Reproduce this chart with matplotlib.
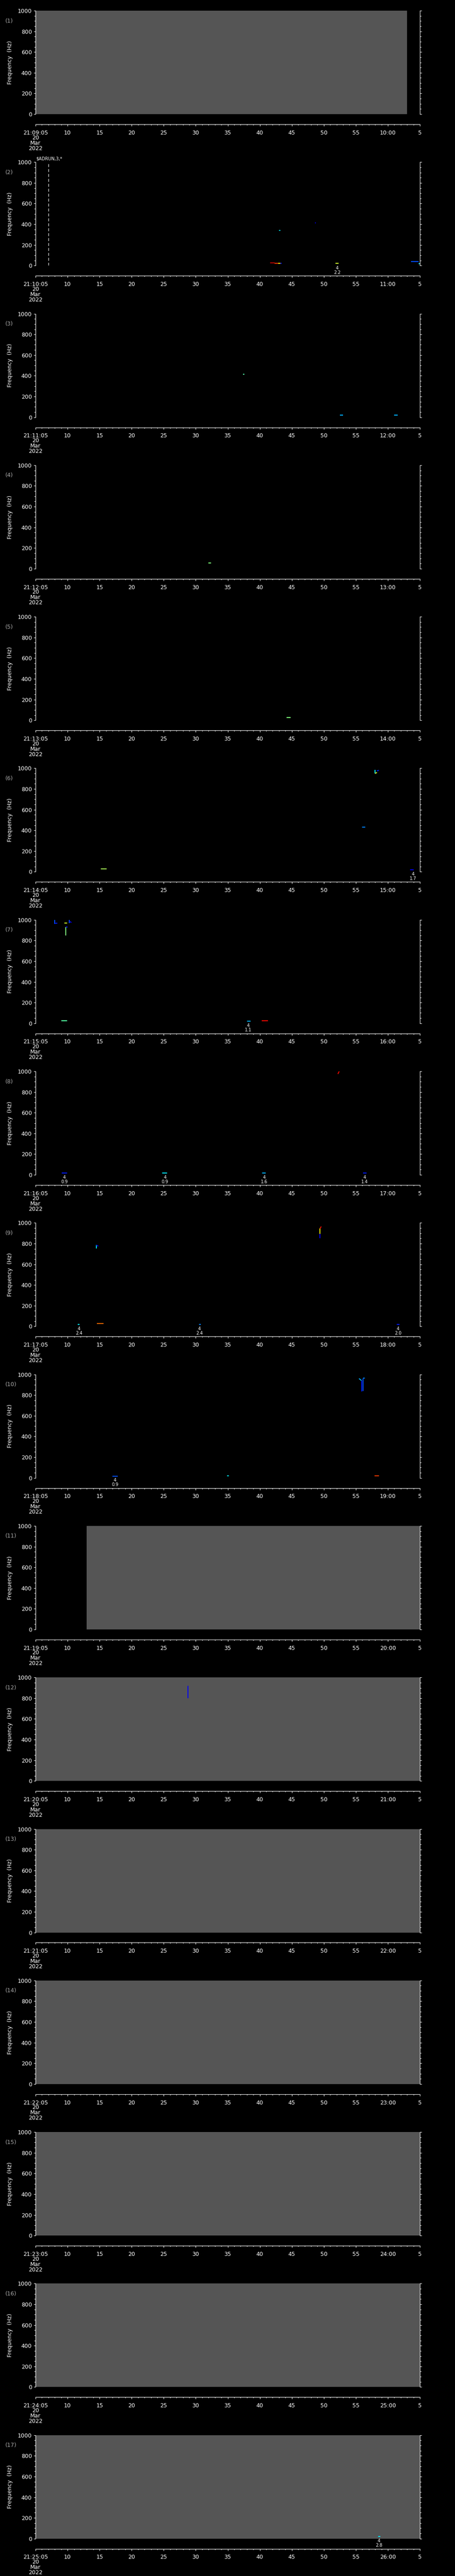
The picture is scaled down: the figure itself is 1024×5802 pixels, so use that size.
## Stacked one-minute spectrogram panels, 20 Mar 2022
import numpy as np
import matplotlib
matplotlib.use('Agg')
import matplotlib.pyplot as plt
from matplotlib.ticker import MultipleLocator, FixedLocator, FixedFormatter

# panel start times and the label for the whole minute inside each panel
starts = ['21:09:05', '21:10:05', '21:11:05', '21:12:05', '21:13:05', '21:14:05',
          '21:15:05', '21:16:05', '21:17:05', '21:18:05', '21:19:05', '21:20:05',
          '21:21:05', '21:22:05', '21:23:05', '21:24:05', '21:25:05']
minute_labels = ['10:00', '11:00', '12:00', '13:00', '14:00', '15:00', '16:00', '17:00',
                 '18:00', '19:00', '20:00', '21:00', '22:00', '23:00', '24:00', '25:00', '26:00']
date_lines = ['20', 'Mar', '2022']

# grey (empty) spans, seconds after panel start
grey_panel = [1, 11, 12, 13, 14, 15, 16, 17]
grey_t0 = [0.0, 8.0, 0.0, 0.0, 0.0, 0.0, 0.0, 0.0]
grey_t1 = [58.0, 60.0, 60.0, 60.0, 60.0, 60.0, 60.0, 60.0]

# spectrogram traces: panel, start/end time (s), start/end frequency (Hz), colour level 0-1
tr_panel = [2, 2, 2, 2, 2, 2, 2, 2, 2,
            3, 3, 3, 4, 5,
            6, 6, 6, 6, 6, 6,
            7, 7, 7, 7, 7, 7, 7, 7, 7, 7,
            8, 8, 8, 8, 8,
            9, 9, 9, 9, 9, 9, 9, 9, 9,
            10, 10, 10, 10, 10, 10, 10,
            12, 17]
tr_t0 = [36.6, 37.3, 37.9, 38.2, 38.0, 43.6, 46.8, 58.6, 59.8,
         32.4, 47.5, 56.0, 27.0, 39.2,
         10.2, 51.0, 53.0, 53.0, 53.3, 58.5,
         3.0, 3.0, 4.5, 5.3, 5.3, 4.7, 4.7, 4.0, 33.0, 35.3,
         47.2, 4.1, 19.8, 35.4, 51.1,
         9.5, 9.5, 44.4, 44.4, 44.4, 6.6, 9.6, 25.5, 56.4,
         50.5, 50.9, 51.1, 51.1, 12.0, 29.9, 52.9,
         23.8, 53.5]
tr_t1 = [37.3, 38.0, 38.2, 38.4, 38.2, 43.8, 47.3, 59.8, 60.0,
         32.6, 48.0, 56.5, 27.4, 39.8,
         11.1, 51.5, 53.0, 53.3, 53.6, 59.0,
         3.0, 3.4, 4.9, 5.3, 5.6, 4.7, 5.0, 4.9, 33.6, 36.3,
         47.4, 4.9, 20.5, 35.9, 51.7,
         9.5, 9.8, 44.4, 44.4, 44.6, 6.9, 10.6, 25.8, 56.8,
         50.9, 50.9, 51.1, 51.4, 12.8, 30.2, 53.6,
         23.8, 53.8]
tr_f0 = [27, 24, 24, 24, 340, 413, 23, 40, 18,
         416, 20, 20, 55, 25,
         27, 430, 985, 950, 975, 18,
         1000, 965, 968, 1000, 985, 850, 930, 23, 19, 25,
         975, 16, 16, 16, 16,
         754, 785, 850, 895, 945, 18, 26, 18, 18,
         960, 940, 840, 965, 16, 18, 18,
         800, 19]
tr_f1 = [27, 24, 24, 24, 340, 413, 23, 40, 18,
         416, 20, 20, 55, 25,
         27, 430, 950, 960, 980, 18,
         960, 968, 968, 968, 974, 930, 930, 23, 19, 25,
         1000, 16, 16, 16, 16,
         785, 775, 895, 945, 965, 18, 26, 18, 18,
         940, 835, 960, 965, 16, 18, 18,
         920, 19]
tr_level = [0.95, 0.85, 0.65, 0.15, 0.35, 0.1, 0.6, 0.2, 0.35,
            0.45, 0.3, 0.3, 0.5, 0.5,
            0.55, 0.25, 0.35, 0.6, 0.15, 0.1,
            0.2, 0.15, 0.6, 0.2, 0.1, 0.5, 0.15, 0.45, 0.3, 0.9,
            0.9, 0.15, 0.35, 0.3, 0.15,
            0.35, 0.1, 0.1, 0.65, 0.9, 0.35, 0.8, 0.25, 0.15,
            0.3, 0.15, 0.2, 0.25, 0.2, 0.35, 0.85,
            0.1, 0.35]

# detected events marked under the panels: panel, time (s), label, value
ev_panel = [2, 6, 7, 8, 8, 8, 8, 9, 9, 9, 10, 17]
ev_t = [47.1, 58.9, 33.2, 4.5, 20.2, 35.7, 51.4, 6.8, 25.6, 56.6, 12.4, 53.6]
ev_n = ['4'] * 12
ev_val = ['2.2', '1.7', '1.1', '0.9', '0.9', '1.6', '1.4', '2.4', '2.4', '2.0', '0.9', '2.8']

# dashed marker line in panel 2
mark_panel = 2
mark_t = 2.0

W, H = 1024, 5802
step = H / 17
cmap = plt.get_cmap('jet')

fig = plt.figure(figsize=(W / 100, H / 100), dpi=100, facecolor='black')

fig.text(81 / W, 1 - 357 / H, '$ADRUN,3,*', color='white', fontsize=7, va='center', ha='left')

for i in range(17):
    p = i + 1
    top = step * i + 24
    ax = fig.add_axes([80 / W, 1 - (top + 233) / H, 865 / W, 233 / H])
    ax.set_facecolor('black')
    ax.set_xlim(0, 60)
    ax.set_ylim(0, 1000)

    for s in ['left', 'right', 'bottom']:
        ax.spines[s].set_color('white')
        ax.spines[s].set_linewidth(0.8)
    ax.spines['top'].set_visible(False)
    ax.spines['bottom'].set_position(('outward', 16.5))

    ax.yaxis.set_major_locator(MultipleLocator(200))
    ax.yaxis.set_minor_locator(MultipleLocator(50))
    ax.tick_params(axis='y', which='both', direction='out', left=True, right=True,
                   colors='white', labelsize=9, width=0.8, pad=3)
    ax.tick_params(axis='y', which='major', length=3)
    ax.tick_params(axis='y', which='minor', length=2)

    xt = list(range(0, 61, 5))
    xl = [starts[i]] + [str(v) for v in range(10, 56, 5)] + [minute_labels[i], '5']
    ax.xaxis.set_major_locator(FixedLocator(xt))
    ax.xaxis.set_major_formatter(FixedFormatter(xl))
    ax.xaxis.set_minor_locator(MultipleLocator(1))
    ax.tick_params(axis='x', which='both', direction='out', top=False, colors='white',
                   labelsize=9, width=0.8, pad=6)
    ax.tick_params(axis='x', which='major', length=3.2)
    ax.tick_params(axis='x', which='minor', length=1.5)

    trans = ax.get_xaxis_transform()
    for k, line in enumerate(date_lines):
        ax.text(0, -(53 + 12 * k) / 233, line, transform=trans, color='white',
                fontsize=9, ha='center', va='center', clip_on=False)

    ax.set_ylabel('Frequency  (Hz)', color='white', fontsize=9)
    ax.yaxis.set_label_coords(-51 / 865, 0.5)
    fig.text(12 / W, 1 - (top + 23) / H, '(%d)' % p, color='#a8a8a8', fontsize=9,
             ha='left', va='center')

    for g in range(len(grey_panel)):
        if grey_panel[g] == p:
            ax.axvspan(grey_t0[g], grey_t1[g], color='#555555', lw=0, zorder=0)

    if p == mark_panel:
        ax.axvline(mark_t, color='white', lw=0.8, ls=(0, (6, 4)))

    for k in range(len(tr_panel)):
        if tr_panel[k] == p:
            ax.plot([tr_t0[k], tr_t1[k]], [tr_f0[k], tr_f1[k]], color=cmap(tr_level[k]),
                    lw=1.5, solid_capstyle='butt', zorder=3)

    for k in range(len(ev_panel)):
        if ev_panel[k] == p:
            ax.text(ev_t[k], -5.7 / 233, ev_n[k], transform=trans, color='white',
                    fontsize=7, ha='center', va='center', clip_on=False)
            ax.text(ev_t[k], -15.5 / 233, ev_val[k], transform=trans, color='white',
                    fontsize=7, ha='center', va='center', clip_on=False)

fig.savefig('out.png', dpi=100, facecolor='black')
